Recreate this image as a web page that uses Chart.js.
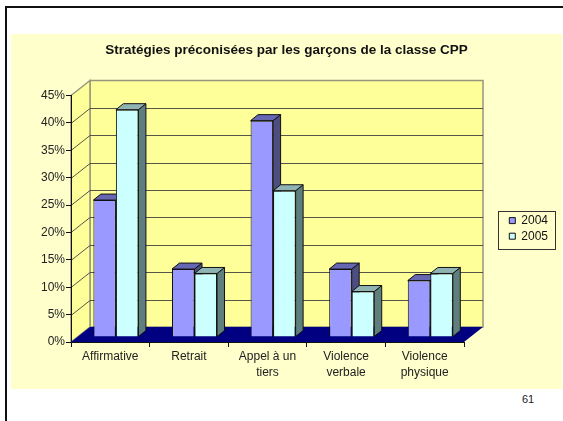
<!DOCTYPE html>
<html>
<head>
<meta charset="utf-8">
<script src="https://cdn.jsdelivr.net/npm/chart.js@4"></script>
<style>
html, body { margin: 0; padding: 0; background: #fff; overflow: hidden; }
#slide { position: relative; width: 563px; height: 421px; }
#top-line { position: absolute; left: 5px; top: 6px; right: 0; height: 2px; background: #111; }
#left-line { position: absolute; left: 5px; top: 6px; bottom: 0; width: 2px; background: #111; }
#panel { position: absolute; left: 11px; top: 34px; width: 551px; height: 355px; background: #ffffcc; }
#page-num { position: absolute; left: 522px; top: 393px; font: 11px "Liberation Sans", Arial, sans-serif; color: #222; }
</style>
</head>
<body>
<div id="slide">
  <div id="top-line"></div>
  <div id="left-line"></div>
  <div id="panel"><canvas id="chart" width="551" height="355"></canvas></div>
  <div id="page-num">61</div>
</div>
<script>
const categories = ['Affirmative', 'Retrait', ['Appel à un', 'tiers'], ['Violence', 'verbale'], ['Violence', 'physique']];
const values2004 = [25, 12.4, 39.5, 12.4, 10.3];
const values2005 = [41.5, 11.6, 26.7, 8.3, 11.6];
const chartTitle = 'Stratégies préconisées par les garçons de la classe CPP';

const wallDx = 19, wallDy = 15;   // depth of the floor
const barDx = 7.5, barDy = 6;     // depth of one bar
const shiftX = 5.6, shiftY = 5;   // bars sit in the middle of the floor

function poly(ctx, pts, fill, stroke) {
    ctx.beginPath();
    pts.forEach((p, i) => i ? ctx.lineTo(p[0], p[1]) : ctx.moveTo(p[0], p[1]));
    ctx.closePath();
    ctx.fillStyle = fill;
    ctx.fill();
    if (stroke) { ctx.strokeStyle = stroke; ctx.stroke(); }
}

const wallsPlugin = {
    id: 'walls',
    beforeDraw(chart) {
        const { ctx, chartArea: a, scales: { y } } = chart;
        ctx.save();
        ctx.lineWidth = 1.5;
        poly(ctx, [[a.left + wallDx, a.top - wallDy], [a.right + wallDx, a.top - wallDy], [a.right + wallDx, a.bottom - wallDy], [a.left + wallDx, a.bottom - wallDy]], '#ffff99', '#96967e');
        poly(ctx, [[a.left, a.top], [a.left + wallDx, a.top - wallDy], [a.left + wallDx, a.bottom - wallDy], [a.left, a.bottom]], '#ffff99', '#96967e');
        ctx.lineWidth = 1;
        y.ticks.forEach(t => {
            if (t.value === 0 || t.value === y.max) return;
            const py = Math.round(y.getPixelForValue(t.value)) + 0.5;
            ctx.beginPath();
            ctx.moveTo(a.left, py);
            ctx.lineTo(a.left + wallDx, py - wallDy);
            ctx.lineTo(a.right + wallDx, py - wallDy);
            ctx.strokeStyle = '#55554a';
            ctx.stroke();
        });
        poly(ctx, [[a.left, a.bottom], [a.left + wallDx, a.bottom - wallDy], [a.right + wallDx, a.bottom - wallDy], [a.right, a.bottom]], '#000080');
        ctx.restore();
    }
};

// side and top faces of the bars, taken from the bar elements, then the
// library draws the front faces on top with the same shift
const barDepthPlugin = {
    id: 'barDepth',
    beforeDatasetsDraw(chart) {
        const { ctx } = chart;
        ctx.save();
        ctx.translate(shiftX, -shiftY);
        ctx.lineWidth = 1;
        const tops = ['#6666b3', '#8fb3b3'];
        const sides = ['#4d4d80', '#5f7f7f'];
        [0, 1].forEach(d => {
            chart.getDatasetMeta(d).data.forEach(bar => {
                const l = bar.x - bar.width / 2, r = bar.x + bar.width / 2;
                poly(ctx, [[r, bar.y], [r + barDx, bar.y - barDy], [r + barDx, bar.base - barDy], [r, bar.base]], sides[d], '#111');
                poly(ctx, [[l, bar.y], [l + barDx, bar.y - barDy], [r + barDx, bar.y - barDy], [r, bar.y]], tops[d], '#111');
            });
        });
    },
    afterDatasetsDraw(chart) {
        chart.ctx.restore();
    }
};

const legendPlugin = {
    id: 'legendBox',
    afterLayout(chart) {
        // the legend is moved out of the chart area, the box is stroked separately
        const lg = chart.legend;
        lg.left = 494.7; lg.top = 177; lg.width = 55; lg.height = 60;
        lg.right = lg.left + lg.width; lg.bottom = lg.top + lg.height;
        // title is centred on the whole panel, not on the padded area
        chart.titleBlock.left = 0;
        chart.titleBlock.right = 551;
    },
    afterDraw(chart) {
        const ctx = chart.ctx;
        ctx.save();
        ctx.strokeStyle = '#333';
        ctx.lineWidth = 1;
        ctx.strokeRect(487.5, 177.5, 57, 38);
        ctx.restore();
    }
};

new Chart(document.getElementById('chart'), {
    type: 'bar',
    data: {
        labels: categories,
        datasets: [
            { label: '2004', data: values2004, backgroundColor: '#9999ff', borderColor: '#111', borderWidth: 1 },
            { label: '2005', data: values2005, backgroundColor: '#ccffff', borderColor: '#111', borderWidth: 1 }
        ]
    },
    options: {
        responsive: false,
        animation: false,
        clip: false,
        barPercentage: 1,
        categoryPercentage: 0.573,
        layout: { padding: { left: 0, right: 98, top: 0, bottom: 0 } },
        plugins: {
            title: {
                display: true,
                text: chartTitle,
                color: '#111',
                font: { family: '"Liberation Sans", Arial, sans-serif', size: 13.5, weight: 'bold' },
                padding: { top: 8, bottom: 37.3 }
            },
            legend: {
                position: 'chartArea',
                align: 'start',
                labels: {
                    boxWidth: 6,
                    boxHeight: 6,
                    padding: 3.6,
                    color: '#111',
                    font: { family: '"Liberation Sans", Arial, sans-serif', size: 12 }
                }
            },
            tooltip: { enabled: false }
        },
        scales: {
            x: {
                grid: { drawOnChartArea: false, color: '#111', tickLength: 5 },
                border: { color: '#111' },
                ticks: { color: '#222', maxRotation: 0, autoSkip: false, padding: 2, font: { family: '"Liberation Sans", Arial, sans-serif', size: 12, lineHeight: 1.33 } },
                afterFit(s) { s.height = 47; }
            },
            y: {
                min: 0,
                max: 45,
                grid: { drawOnChartArea: false, color: '#111', tickLength: 5 },
                border: { color: '#111' },
                ticks: { stepSize: 5, color: '#222', padding: 1, callback: v => v + '%', font: { family: '"Liberation Sans", Arial, sans-serif', size: 12 } },
                afterFit(s) { s.width = 60; }
            }
        }
    },
    plugins: [wallsPlugin, barDepthPlugin, legendPlugin]
});
</script>
</body>
</html>
